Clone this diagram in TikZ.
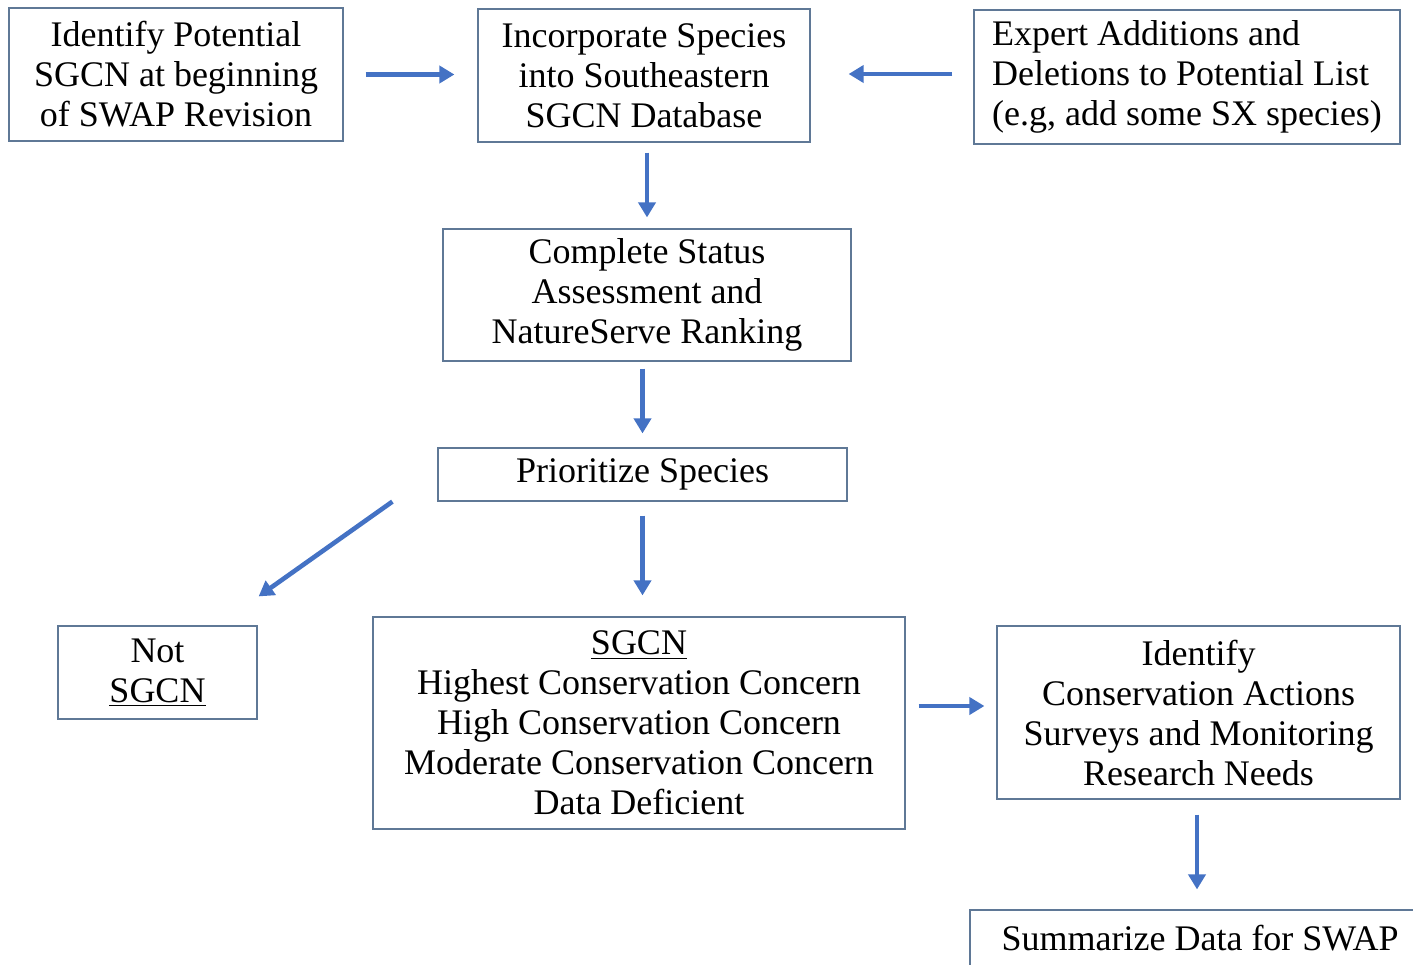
\documentclass[tikz,border=0pt]{standalone}
\usepackage{fontspec}
\setmainfont{Liberation Serif}
\usetikzlibrary{positioning,arrows.meta,calc}
\definecolor{arrowblue}{RGB}{68,114,196}
\definecolor{boxline}{RGB}{95,120,150}

\tikzset{
  box/.style={draw=boxline, line width=0.6pt, align=center, inner sep=0pt,
    font=\fontsize{18}{20}\selectfont},
  flow/.style={draw=arrowblue, line width=2.3pt,
    -{Triangle[length=7.5pt,width=8.5pt]}}
}

\begin{document}
\begin{tikzpicture}[x=0.5pt,y=-0.5pt]
  \useasboundingbox (0,0) rectangle (1413,964);

  % top row
  \node[box, minimum width=167pt, minimum height=66.5pt] (idpot) at (176,74.5)
    {Identify Potential\\SGCN at beginning\\of SWAP Revision};
  \node[box, minimum width=166pt, minimum height=66.5pt] (incorp) at (644,75.5)
    {Incorporate Species\\into Southeastern\\SGCN Database};
  \node[box, align=left, minimum width=213pt, minimum height=67pt] (expert) at (1187,77)
    {Expert Additions and\\Deletions to Potential List\\(e.g, add some SX species)};

  % middle
  \node[box, minimum width=204pt, minimum height=66pt] (status) at (647,295)
    {Complete Status\\Assessment and\\NatureServe Ranking};
  \node[box, minimum width=204.5pt, minimum height=26.5pt] (prior) at (642.5,474.5)
    {Prioritize Species};

  % bottom
  \node[box, minimum width=99.5pt, minimum height=46.5pt] (notsgcn) at (157.5,672.5)
    {Not\\\underline{SGCN}};
  \node[box, minimum width=266pt, minimum height=106pt] (sgcn) at (639,723)
    {\underline{SGCN}\\Highest Conservation Concern\\High Conservation Concern\\Moderate Conservation Concern\\Data Deficient};
  \node[box, minimum width=201.5pt, minimum height=86.5pt] (actions) at (1198.5,712.5)
    {Identify\\Conservation Actions\\Surveys and Monitoring\\Research Needs};
  \node[box, minimum width=230pt, minimum height=28pt] (summ) at (1200,938)
    {Summarize Data for SWAP};

  % arrows
  \draw[flow, shorten <=11pt, shorten >=11.5pt] (idpot.east) -- (idpot.east -| incorp.west);
  \draw[flow, shorten <=10.5pt, shorten >=19pt] ([yshift=1.5pt]expert.west) -- ([yshift=1.5pt]expert.west -| incorp.east);
  \draw[flow, shorten <=5pt, shorten >=5.5pt] (incorp.south -| status.north) -- (status.north);
  \draw[flow, shorten <=3.5pt, shorten >=7pt] (status.south -| prior.north) -- (prior.north);
  \draw[flow] ([xshift=-22.5pt]prior.south west) -- ([xshift=0.5pt,yshift=14.5pt]notsgcn.north east);
  \draw[flow, shorten <=7pt, shorten >=10.5pt] (prior.south) -- (prior.south |- sgcn.north);
  \draw[flow, shorten <=6.5pt, shorten >=6pt] ([yshift=8.5pt]sgcn.east) -- ([yshift=8.5pt]sgcn.east -| actions.west);
  \draw[flow, shorten <=7.5pt, shorten >=10pt] (actions.south -| 1197,0) -- (summ.north -| 1197,0);
\end{tikzpicture}
\end{document}
